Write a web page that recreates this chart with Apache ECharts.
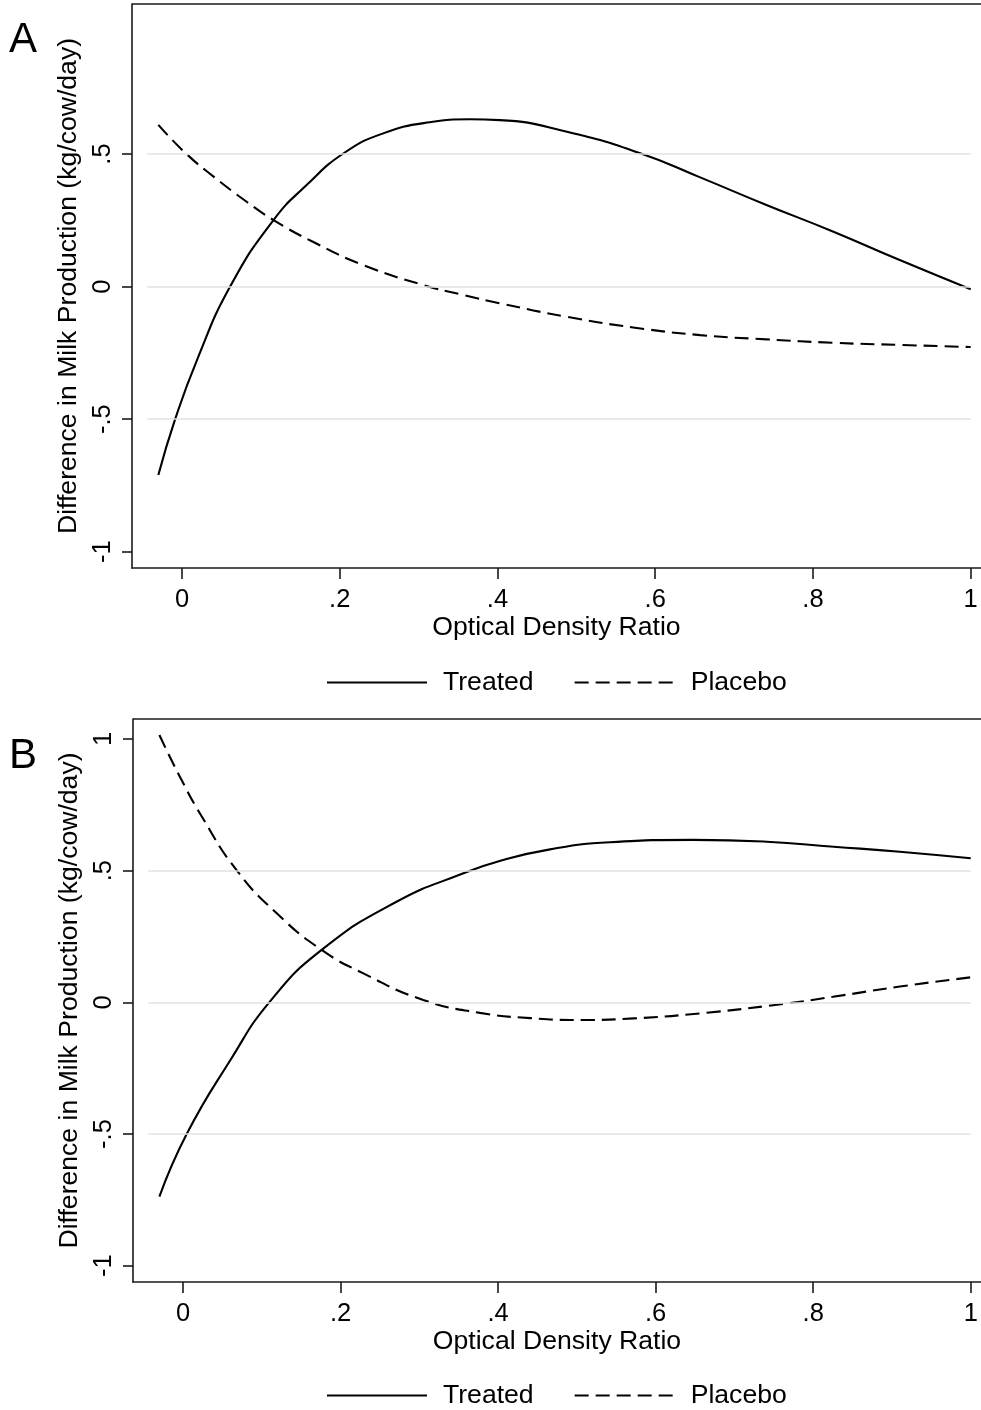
<!DOCTYPE html>
<html>
<head>
<meta charset="utf-8">
<script src="https://cdn.jsdelivr.net/npm/echarts@6/dist/echarts.min.js"></script>
<style>
  html, body { margin: 0; padding: 0; background: #fff; overflow: hidden; }
  #chart { width: 981px; height: 1410px; }
</style>
</head>
<body>
<div id="chart"></div>
<script>
// ---------- data ----------
var xTicks = [0, 0.2, 0.4, 0.6, 0.8, 1];
var xTickLabels = ['0', '.2', '.4', '.6', '.8', '1'];
var yTicksA = [-1, -0.5, 0, 0.5];
var yTickLabelsA = ['-1', '-.5', '0', '.5'];
var yTicksB = [-1, -0.5, 0, 0.5, 1];
var yTickLabelsB = ['-1', '-.5', '0', '.5', '1'];
var gridValues = [-0.5, 0, 0.5];

// Panel A
var treatedAx = [-0.03, -0.009, 0.019, 0.061, 0.116, 0.158, 0.205, 0.255, 0.314, 0.365, 0.403, 0.488, 0.581, 0.657, 0.741, 0.826, 0.910, 1.0];
var treatedAy = [-0.711, -0.503, -0.277, 0.000, 0.251, 0.383, 0.503, 0.578, 0.620, 0.631, 0.628, 0.584, 0.503, 0.412, 0.308, 0.207, 0.100, -0.010];
var placeboAx = [-0.03, 0.004, 0.040, 0.082, 0.116, 0.166, 0.230, 0.306, 0.357, 0.403, 0.488, 0.572, 0.657, 0.741, 0.826, 0.910, 1.0];
var placeboAy = [0.610, 0.505, 0.415, 0.320, 0.251, 0.169, 0.081, 0.006, -0.032, -0.063, -0.114, -0.154, -0.183, -0.199, -0.212, -0.220, -0.228];

// Panel B
var treatedBx = [-0.03, 0.005, 0.060, 0.110, 0.176, 0.271, 0.356, 0.402, 0.466, 0.542, 0.648, 0.741, 0.826, 0.910, 1.0];
var treatedBy = [-0.738, -0.498, -0.220, 0.002, 0.199, 0.382, 0.490, 0.537, 0.581, 0.608, 0.617, 0.610, 0.591, 0.572, 0.547];
var placeboBx = [-0.03, -0.004, 0.024, 0.068, 0.119, 0.176, 0.229, 0.305, 0.377, 0.441, 0.507, 0.572, 0.656, 0.762, 0.825, 0.910, 1.0];
var placeboBy = [1.015, 0.857, 0.705, 0.502, 0.338, 0.199, 0.110, 0.009, -0.040, -0.060, -0.067, -0.061, -0.042, -0.006, 0.021, 0.060, 0.095];

var seriesNames = ['Treated', 'Placebo'];
var xTitle = 'Optical Density Ratio';
var yTitle = 'Difference in Milk Production (kg/cow/day)';
var panelLabels = ['A', 'B'];

// ---------- helpers ----------
function zip(xs, ys) { return xs.map(function (x, i) { return [x, ys[i]]; }); }
var FONT = '"Liberation Sans", Arial, Helvetica, sans-serif';
var AXIS_COLOR = '#1a1a1a';
var GRID_START = -0.044;
var GRID_END = 1.0;
var TITLE_FS = 26.6;
var TICK_FS = 25.5;
var OVER = 40; // plot area runs past the right edge of the picture

var xRangeA = [-0.0634, -0.0634 + (849 + OVER) / 788.7];
var xRangeB = [-0.0635, -0.0635 + (848 + OVER) / 787.7];
var yRangeA = [-1.0615, 1.066];
var yRangeB = [-1.062, 1.076];

function xAxisFor(gi, range) {
  return {
    type: 'value', gridIndex: gi, min: range[0], max: range[1], position: 'bottom',
    name: xTitle, nameLocation: 'middle', nameGap: 44,
    nameTextStyle: { fontSize: TITLE_FS, color: '#000', fontFamily: FONT, padding: [0, OVER, 0, 0] },
    axisLine: { show: true, onZero: false, lineStyle: { color: AXIS_COLOR, width: 1.6 } },
    axisTick: { show: true, length: 11, customValues: xTicks, lineStyle: { color: AXIS_COLOR, width: 1.6 } },
    axisLabel: {
      customValues: xTicks, margin: 19, fontSize: TICK_FS, color: '#000', fontFamily: FONT,
      formatter: function (v) { var i = xTicks.indexOf(v); return i >= 0 ? xTickLabels[i] : ''; }
    },
    splitLine: { show: false }
  };
}

function yAxisFor(gi, range, ticks, labels) {
  return {
    type: 'value', gridIndex: gi, min: range[0], max: range[1],
    name: yTitle, nameLocation: 'middle', nameGap: 37,
    nameTextStyle: { fontSize: TITLE_FS, color: '#000', fontFamily: FONT },
    axisLine: { show: true, onZero: false, lineStyle: { color: AXIS_COLOR, width: 1.6 } },
    axisTick: { show: true, length: 10, customValues: ticks, lineStyle: { color: AXIS_COLOR, width: 1.6 } },
    axisLabel: {
      customValues: ticks, rotate: 90, margin: 16, fontSize: TICK_FS, color: '#000', fontFamily: FONT,
      formatter: function (v) { var i = ticks.indexOf(v); return i >= 0 ? labels[i] : ''; }
    },
    splitLine: { show: false }
  };
}

function gridSeries(gi) {
  return {
    type: 'line', xAxisIndex: gi, yAxisIndex: gi, data: [], z: 1, silent: true,
    markLine: {
      silent: true, symbol: ['none', 'none'], label: { show: false },
      lineStyle: { color: '#e2e2e2', width: 1.6, type: 'solid' },
      animation: false,
      data: gridValues.map(function (v) { return [{ coord: [GRID_START, v] }, { coord: [GRID_END, v] }]; })
    }
  };
}

function curve(name, gi, xs, ys, dashed) {
  return {
    name: name, type: 'line', xAxisIndex: gi, yAxisIndex: gi, z: 3,
    data: zip(xs, ys), smooth: 0.5, showSymbol: false, symbol: 'none',
    lineStyle: { color: '#000', width: 2.1, type: dashed ? [14, 7] : 'solid' },
    itemStyle: { color: '#000' },
    animation: false
  };
}

var legendBase = {
  data: seriesNames, orient: 'horizontal', itemWidth: 100, itemHeight: 14, itemGap: 40,
  itemStyle: { opacity: 0, color: 'rgba(0,0,0,0)', borderWidth: 0 },
  textStyle: { fontSize: TITLE_FS, color: '#000', fontFamily: FONT, padding: [0, 0, 0, 11] },
  selectedMode: false
};

var gridBase = { right: -OVER, outerBoundsMode: 'none', containLabel: false };

var option = {
  backgroundColor: '#fff',
  animation: false,
  title: [
    { text: panelLabels[0], left: 4, top: 14, textStyle: { fontSize: 42, fontWeight: 'normal', color: '#000', fontFamily: FONT } },
    { text: panelLabels[1], left: 4, top: 730, textStyle: { fontSize: 42, fontWeight: 'normal', color: '#000', fontFamily: FONT } }
  ],
  legend: [
    Object.assign({}, legendBase, { left: 321, top: 664 }),
    Object.assign({}, legendBase, { left: 321, top: 1377 })
  ],
  grid: [
    Object.assign({}, gridBase, { left: 132, top: 4, bottom: 842 }),
    Object.assign({}, gridBase, { left: 133, top: 719, bottom: 128 })
  ],
  xAxis: [xAxisFor(0, xRangeA), xAxisFor(1, xRangeB)],
  yAxis: [
    yAxisFor(0, yRangeA, yTicksA, yTickLabelsA),
    yAxisFor(1, yRangeB, yTicksB, yTickLabelsB)
  ],
  series: [
    gridSeries(0),
    curve(seriesNames[0], 0, treatedAx, treatedAy, false),
    curve(seriesNames[1], 0, placeboAx, placeboAy, true),
    gridSeries(1),
    curve(seriesNames[0], 1, treatedBx, treatedBy, false),
    curve(seriesNames[1], 1, placeboBx, placeboBy, true)
  ]
};

var chart = echarts.init(document.getElementById('chart'), null, { renderer: 'canvas' });
chart.setOption(option);

// top frame line of each plot region, positioned through the axes' own scales
function topBorder(gi, xr, yr) {
  var p0 = chart.convertToPixel({ gridIndex: gi }, [xr[0], yr[1]]);
  var p1 = chart.convertToPixel({ gridIndex: gi }, [xr[1], yr[1]]);
  if (!p0 || !p1) { return null; }
  return {
    type: 'line', silent: true, z: 10,
    shape: { x1: p0[0], y1: p0[1], x2: p1[0], y2: p1[1] },
    style: { stroke: AXIS_COLOR, lineWidth: 1.6 }
  };
}
var borders = [topBorder(0, xRangeA, yRangeA), topBorder(1, xRangeB, yRangeB)].filter(function (b) { return b; });
chart.setOption({ graphic: borders });
</script>
</body>
</html>
